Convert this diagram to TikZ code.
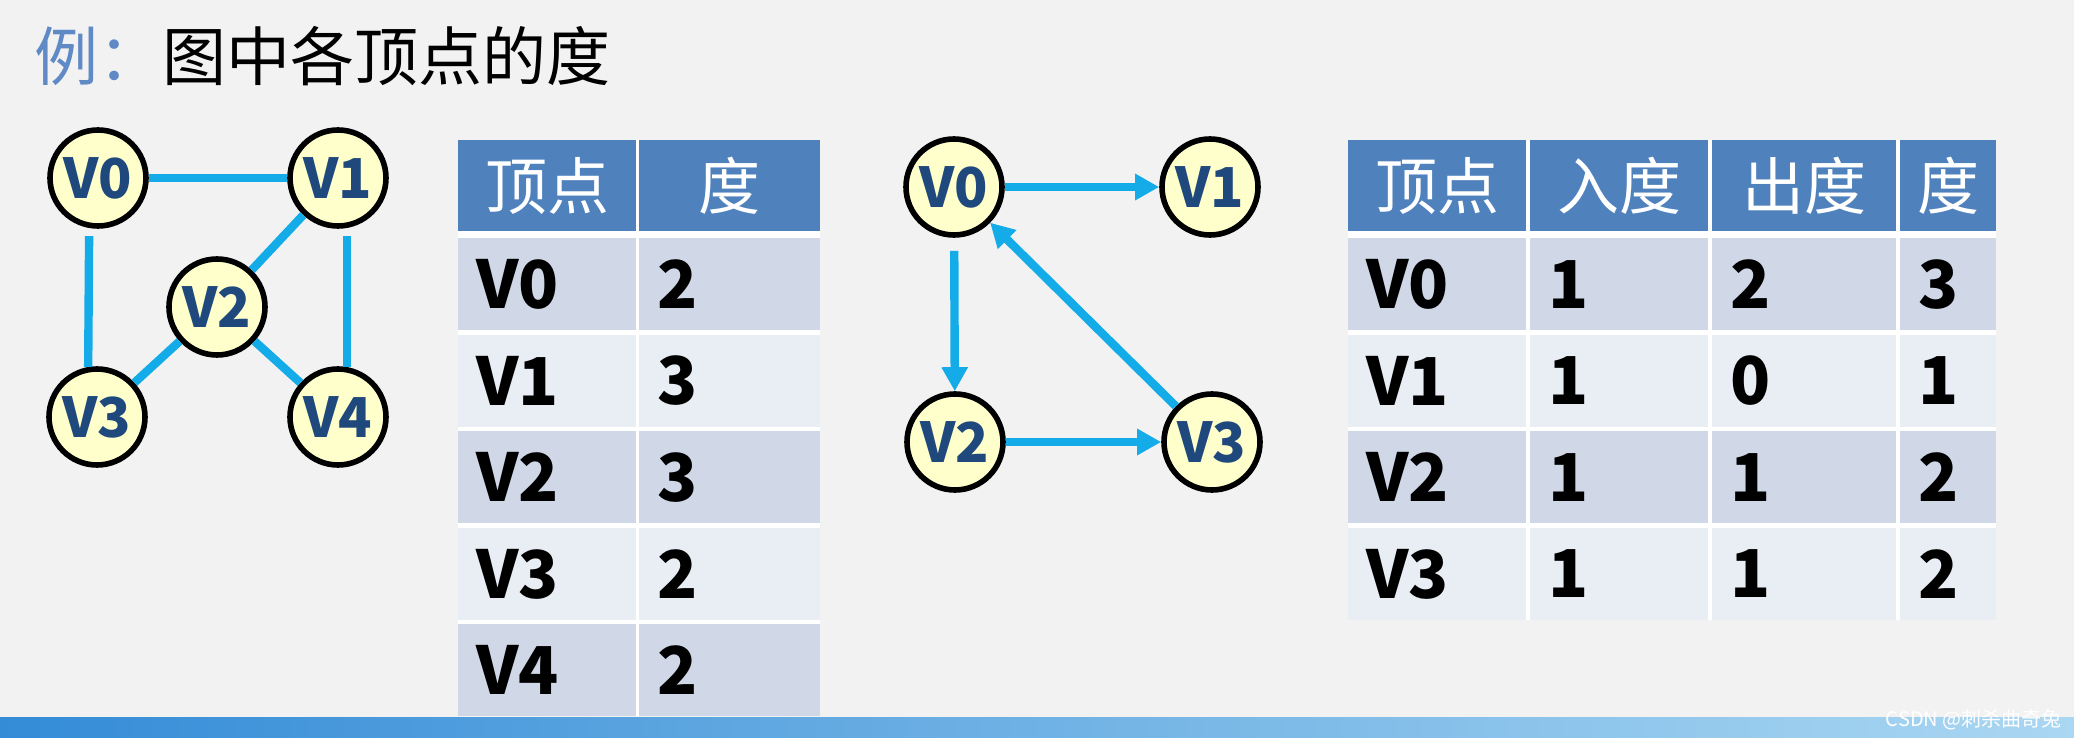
\documentclass[tikz,border=0pt]{standalone}
\usepackage{fontspec}
\setmainfont{Noto Sans CJK SC}
\usetikzlibrary{arrows.meta}

\definecolor{slidebg}{RGB}{242,242,242}
\definecolor{vfill}{RGB}{255,255,204}
\definecolor{vtext}{RGB}{31,73,125}
\definecolor{lineblue}{RGB}{20,172,232}
\definecolor{hdblue}{RGB}{79,129,189}
\definecolor{rowdark}{RGB}{208,216,232}
\definecolor{rowlight}{RGB}{233,237,244}
\definecolor{titleblue}{RGB}{95,138,198}
\definecolor{barl}{RGB}{52,140,215}
\definecolor{barm}{RGB}{75,160,228}
\definecolor{barr}{RGB}{170,215,242}

\begin{document}
\begin{tikzpicture}[x=0.5pt, y=-0.5pt,
      vtx/.style={circle, draw=black, line width=2.8pt, fill=vfill, text=vtext, minimum size=48pt, inner sep=0pt, font=\fontsize{27.5}{27.5}\selectfont\bfseries},
      edge/.style={draw=lineblue, line width=4.2pt},
      arc/.style={edge, -{Triangle[length=12pt,width=12.5pt]}},
      hd/.style={fill=hdblue, text=white, anchor=north west, minimum height=45.5pt, inner sep=0pt, font=\fontsize{31}{31}\selectfont},
      cell/.style={anchor=north west, minimum height=46pt, inner xsep=9pt, inner ysep=0pt, align=left, font=\fontsize{33}{33}\selectfont\bfseries},
      dk/.style={cell, fill=rowdark},
      lt/.style={cell, fill=rowlight}]
    \useasboundingbox (0,0) rectangle (2074,738);
    \fill[slidebg] (0,0) rectangle (2074,738);

    \node[anchor=base west, inner sep=0pt, font=\fontsize{32}{32}\selectfont] (title) at (34,81) {\textcolor{titleblue}{例：}图中各顶点的度};

    % undirected graph
    \node[vtx] (v0) at (98,178) {V0};
    \node[vtx] (v1) at (338,178) {V1};
    \node[vtx] (v2) at (217,307) {V2};
    \node[vtx] (v3) at (97,417) {V3};
    \node[vtx] (v4) at (338,417) {V4};
    \draw[edge] (v0) -- (v1);
    \draw[edge, shorten <=4pt] (v0.260) -- (v3.100);
    \draw[edge, shorten <=4pt] (v1.280) -- (v4.80);
    \draw[edge] (v1) -- (v2);
    \draw[edge] (v2) -- (v3);
    \draw[edge] (v2) -- (v4);

    % degree table
    \fill[white] (458,140) rectangle (820,716);
    \node[hd, minimum width=89pt]   (ta) at (458,140) {顶点};
    \node[hd, minimum width=90.5pt] (tb) at (639,140) {度};
    \node[dk, text width=71pt]   (ta0) at (458,238) {V0};
    \node[dk, text width=72.5pt] (tb0) at (639,238) {2};
    \node[lt, text width=71pt]   (ta1) at (458,334.5) {V1};
    \node[lt, text width=72.5pt] (tb1) at (639,334.5) {3};
    \node[dk, text width=71pt]   (ta2) at (458,431) {V2};
    \node[dk, text width=72.5pt] (tb2) at (639,431) {3};
    \node[lt, text width=71pt]   (ta3) at (458,527.5) {V3};
    \node[lt, text width=72.5pt] (tb3) at (639,527.5) {2};
    \node[dk, text width=71pt]   (ta4) at (458,624) {V4};
    \node[dk, text width=72.5pt] (tb4) at (639,624) {2};

    % directed graph
    \node[vtx] (w0) at (954,187) {V0};
    \node[vtx] (w1) at (1210,187) {V1};
    \node[vtx] (w2) at (955,442) {V2};
    \node[vtx] (w3) at (1212,442) {V3};
    \draw[arc] (w0) -- (w1);
    \draw[arc, shorten <=6.5pt] (w0) -- (w2);
    \draw[arc] (w2) -- (w3);
    \draw[arc] (w3) -- (w0);

    % in/out degree table
    \fill[white] (1348,140) rectangle (1996,619.5);
    \node[hd, minimum width=89pt] (sa) at (1348,140) {顶点};
    \node[hd, minimum width=89pt] (sb) at (1530,140) {入度};
    \node[hd, minimum width=92pt] (sc) at (1712,140) {出度};
    \node[hd, minimum width=48pt] (sd) at (1900,140) {度};
    \node[dk, text width=71pt] (sa0) at (1348,238) {V0};
    \node[dk, text width=71pt] (sb0) at (1530,238) {1};
    \node[dk, text width=74pt] (sc0) at (1712,238) {2};
    \node[dk, text width=30pt] (sd0) at (1900,238) {3};
    \node[lt, text width=71pt] (sa1) at (1348,334.5) {V1};
    \node[lt, text width=71pt] (sb1) at (1530,334.5) {1};
    \node[lt, text width=74pt] (sc1) at (1712,334.5) {0};
    \node[lt, text width=30pt] (sd1) at (1900,334.5) {1};
    \node[dk, text width=71pt] (sa2) at (1348,431) {V2};
    \node[dk, text width=71pt] (sb2) at (1530,431) {1};
    \node[dk, text width=74pt] (sc2) at (1712,431) {1};
    \node[dk, text width=30pt] (sd2) at (1900,431) {2};
    \node[lt, text width=71pt] (sa3) at (1348,527.5) {V3};
    \node[lt, text width=71pt] (sb3) at (1530,527.5) {1};
    \node[lt, text width=74pt] (sc3) at (1712,527.5) {1};
    \node[lt, text width=30pt] (sd3) at (1900,527.5) {2};

    % bottom bar
    \shade[left color=barl, middle color=barm, right color=barr] (0,717) rectangle (2074,738);
    \node[anchor=east, inner sep=0pt, text=white, font=\fontsize{10}{10}\selectfont] (mark) at (2062,720) {CSDN @刺杀曲奇兔};
  \end{tikzpicture}
\end{document}
